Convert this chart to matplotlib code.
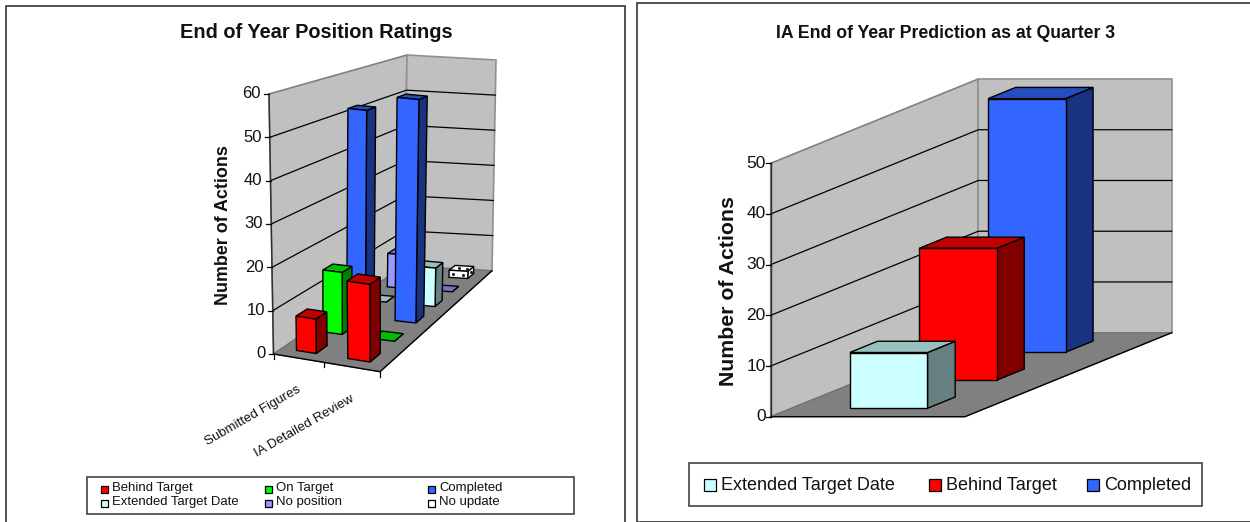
import numpy as np
import matplotlib
matplotlib.use("Agg")
import matplotlib.pyplot as plt
from matplotlib.colors import to_rgb
from matplotlib.patches import Rectangle

plt.rcParams['font.family'] = ['Liberation Sans', 'DejaVu Sans']

# left chart data
left_categories = ["Submitted Figures", "IA Detailed Review"]
left_series = ["Behind Target", "On Target", "Completed",
               "Extended Target Date", "No position", "No update"]
behind_target = [8, 18]
on_target = [15, 0]
completed = [52, 56]
extended_date = [0, 10]
no_position = [9, 0]
no_update = [None, 2]
left_ticks = [0, 10, 20, 30, 40, 50, 60]

# right chart data
right_series = ["Extended Target Date", "Behind Target", "Completed"]
right_values = [11, 26, 50]
right_ticks = [0, 10, 20, 30, 40, 50]

RED = "#FF0000"
GREEN = "#00FF00"
BLUE = "#3366FF"
CYAN = "#CCFFFF"
PURPLE = "#9999FF"
WHITE = "#FFFFFF"
WALL = "#C0C0C0"
FLOOR = "#808080"
TEXT = "#111111"
FRAME = "#333333"


def shade(color, factor):
    return tuple(c * factor for c in to_rgb(color))


def homography(corners):
    # unit square -> quad, corner order: (0,0) (1,0) (1,1) (0,1)
    src = [(0, 0), (1, 0), (1, 1), (0, 1)]
    A, b = [], []
    for (u, w), (x, y) in zip(src, corners):
        A.append([u, w, 1, 0, 0, 0, -u * x, -w * x])
        A.append([0, 0, 0, u, w, 1, -u * y, -w * y])
        b += [x, y]
    h = np.linalg.solve(np.array(A, float), np.array(b, float))
    return np.append(h, 1).reshape(3, 3)


class Box3D:
    """Maps (category, series, value) onto the page through floor and ceiling quads."""

    def __init__(self, floor, ceiling, ncat, nser, vmax):
        self.hf = homography(floor)
        self.hc = homography(ceiling)
        self.ncat, self.nser, self.vmax = ncat, nser, vmax

    def __call__(self, u, w, v):
        p = np.array([u / self.ncat, w / self.nser, 1.0])
        a = self.hf @ p
        b = self.hc @ p
        a, b = a[:2] / a[2], b[:2] / b[2]
        return tuple(a + (b - a) * v / self.vmax)


def poly(ax, pts, fc, ec="black", lw=1.0, z=1):
    xs, ys = zip(*pts)
    ax.fill(xs, ys, facecolor=fc, edgecolor=ec, linewidth=lw, zorder=z, joinstyle="miter")


def draw_walls(ax, box, ticks, tick_len=5):
    ncat, nser, vmax = box.ncat, box.nser, box.vmax
    poly(ax, [box(0, 0, 0), box(0, nser, 0), box(0, nser, vmax), box(0, 0, vmax)],
         WALL, ec="#808080", lw=1.2)
    poly(ax, [box(0, nser, 0), box(ncat, nser, 0), box(ncat, nser, vmax), box(0, nser, vmax)],
         WALL, ec="#909090", lw=1.2)
    poly(ax, [box(0, 0, 0), box(ncat, 0, 0), box(ncat, nser, 0), box(0, nser, 0)],
         FLOOR, ec="#707070", lw=0.8)
    for t in ticks[1:-1]:
        pts = [box(0, 0, t), box(0, nser, t), box(ncat, nser, t)]
        ax.plot(*zip(*pts), color="black", lw=0.9, zorder=1.5)
    ax.plot(*zip(box(0, 0, 0), box(ncat, 0, 0), box(ncat, nser, 0)),
            color="black", lw=1.0, zorder=1.5)
    ax.plot(*zip(box(0, 0, 0), box(0, 0, vmax)), color="#303030", lw=1.0, zorder=1.5)
    for t in ticks:
        x, y = box(0, 0, t)
        ax.plot([x - tick_len, x], [y, y], color="black", lw=0.9, zorder=1.5)


def draw_bar(ax, box, cat, ser, value, color, z, dotted=False):
    u0, u1 = cat + 0.3, cat + 0.7
    w0, w1 = ser + 0.3, ser + 0.7
    top = [box(u0, w0, value), box(u1, w0, value), box(u1, w1, value), box(u0, w1, value)]
    side = [box(u1, w0, 0), box(u1, w1, 0), box(u1, w1, value), box(u1, w0, value)]
    front = [box(u0, w0, 0), box(u1, w0, 0), box(u1, w0, value), box(u0, w0, value)]
    poly(ax, side, WHITE if dotted else shade(color, 0.5), z=z)
    poly(ax, top, WHITE if dotted else shade(color, 0.75), z=z + 0.1)
    if value > 0:
        poly(ax, front, color, z=z + 0.2)
    if dotted:
        # sparse dot fill on the three visible faces
        du = u1 - u0
        dots = [box(u0 + du * f, w0, value * 0.45) for f in (0.22, 0.72)]
        dots += [box(u0 + du * f, (w0 + w1) / 2, value) for f in (0.35, 0.8)]
        dots += [box(u1, (w0 + w1) / 2, value * 0.5)]
        ax.scatter(*zip(*dots), s=5, color="#222222", linewidths=0, zorder=z + 0.3)


def draw_legend(ax, x0, y0, x1, y1, entries, fontsize, swatch, gap, text_dy):
    ax.add_patch(Rectangle((x0, y0), x1 - x0, y1 - y0, facecolor="white",
                           edgecolor=FRAME, lw=1.1, zorder=50))
    for label, color, x, y in entries:
        ax.add_patch(Rectangle((x, y - swatch / 2), swatch, swatch, facecolor=color,
                               edgecolor="black", lw=0.9, zorder=51))
        ax.text(x + swatch + gap, y + text_dy, label, fontsize=fontsize, va="center",
                ha="left", color=TEXT, zorder=51)


fig = plt.figure(figsize=(12.5, 5.22), dpi=100)
ax = fig.add_axes([0, 0, 1, 1])
ax.set_xlim(0, 1250)
ax.set_ylim(522, 0)
ax.axis("off")

# panel frames
ax.add_patch(Rectangle((5.7, 6), 619.3, 530, facecolor="white", edgecolor=FRAME, lw=1.2))
ax.add_patch(Rectangle((636.7, 3), 630, 518.7, facecolor="white", edgecolor=FRAME, lw=1.2))

# left chart
ax.text(316, 33, "End of Year Position Ratings", fontsize=14.4, fontweight="bold",
        ha="center", va="center", color=TEXT)
left_box = Box3D([(273.5, 354), (380, 371.7), (492, 270.7), (404, 266)],
                 [(269, 94), (379, 110), (496, 60), (407, 55)],
                 len(left_categories), len(left_series), left_ticks[-1])
draw_walls(ax, left_box, left_ticks)
for t in left_ticks:
    x, y = left_box(0, 0, t)
    ax.text(x - 8, y, str(t), fontsize=12, ha="right", va="center", color=TEXT)
ax.text(224, 225, "Number of Actions", fontsize=12.9, fontweight="bold", rotation=90,
        ha="center", va="center", color=TEXT)

left_rows = [behind_target, on_target, completed, extended_date, no_position, no_update]
left_colors = [RED, GREEN, BLUE, CYAN, PURPLE, WHITE]
for s in range(len(left_rows) - 1, -1, -1):
    for c in range(len(left_categories)):
        value = left_rows[s][c]
        if value is None:
            continue
        draw_bar(ax, left_box, c, s, value, left_colors[s], 10 + (5 - s) * 2 + c * 0.5,
                 dotted=left_colors[s] == WHITE)

for c in range(len(left_categories) + 1):
    x, y = left_box(c, 0, 0)
    ax.plot([x, x], [y, y + 5], color="black", lw=0.9, zorder=1.5)
for c, label in enumerate(left_categories):
    x, y = left_box(c + 0.5, 0, 0)
    ax.text(x - 1, y + 25.5, label, fontsize=9.6, rotation=30, ha="right", va="top",
            rotation_mode="anchor", color=TEXT)

draw_legend(ax, 86.7, 477.3, 574, 514,
            [(left_series[0], RED, 101, 489), (left_series[1], GREEN, 265, 489),
             (left_series[2], BLUE, 428, 489), (left_series[3], CYAN, 101, 503),
             (left_series[4], PURPLE, 265, 503), (left_series[5], WHITE, 428, 503)],
            fontsize=9.45, swatch=7, gap=4, text_dy=-1.5)

# right chart
ax.text(946, 34, "IA End of Year Prediction as at Quarter 3", fontsize=12.7,
        fontweight="bold", ha="center", va="center", color=TEXT)
right_box = Box3D([(770.7, 416.7), (965, 416.7), (1171.7, 332.7), (978.3, 332.7)],
                  [(770.7, 163.3), (965, 163.3), (1171.7, 79), (978.3, 79)],
                  1, len(right_series), right_ticks[-1])
draw_walls(ax, right_box, right_ticks)
for t in right_ticks:
    x, y = right_box(0, 0, t)
    ax.text(x - 5, y, str(t), fontsize=12.5, ha="right", va="center", color=TEXT)
ax.text(728, 291, "Number of Actions", fontsize=15.3, fontweight="bold", rotation=90,
        ha="center", va="center", color=TEXT)

right_colors = [CYAN, RED, BLUE]
for s in range(len(right_series) - 1, -1, -1):
    draw_bar(ax, right_box, 0, s, right_values[s], right_colors[s], 10 + (2 - s) * 2)

draw_legend(ax, 689, 463, 1202, 505.5,
            [(right_series[0], CYAN, 704, 485), (right_series[1], RED, 929, 485),
             (right_series[2], BLUE, 1087, 485)],
            fontsize=13, swatch=11.5, gap=5.5, text_dy=0)

fig.savefig("out.png", dpi=100)
